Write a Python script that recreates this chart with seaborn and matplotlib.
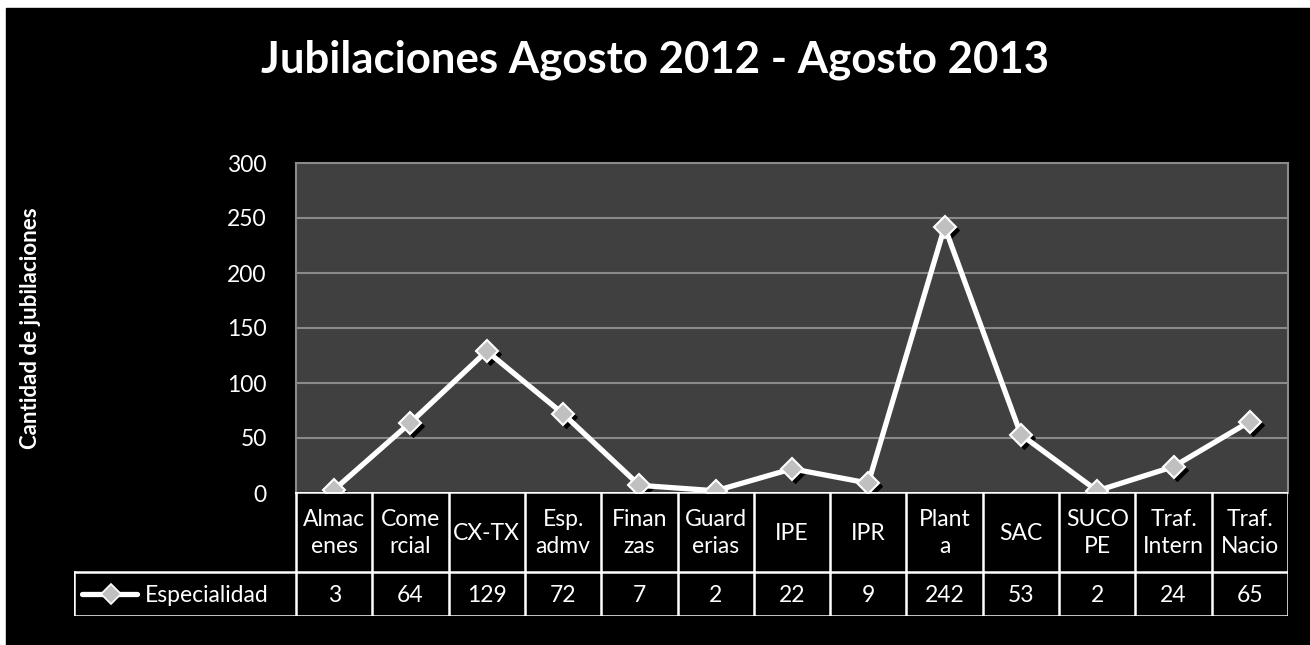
import numpy as np
import pandas as pd
import matplotlib
matplotlib.use("Agg")
import matplotlib.pyplot as plt
import matplotlib.transforms as mtransforms
from matplotlib.patches import Rectangle
import seaborn as sns

# data
categories = ["Almacenes", "Comercial", "CX-TX", "Esp. admv", "Finanzas", "Guarderias",
              "IPE", "IPR", "Planta", "SAC", "SUCOPE", "Traf. Intern", "Traf. Nacio"]
cat_labels = ["Almac\nenes", "Come\nrcial", "CX-TX", "Esp.\nadmv", "Finan\nzas", "Guard\nerias",
              "IPE", "IPR", "Plant\na", "SAC", "SUCO\nPE", "Traf.\nIntern", "Traf.\nNacio"]
values = [3, 64, 129, 72, 7, 2, 22, 9, 242, 53, 2, 24, 65]
y_ticks = [0, 50, 100, 150, 200, 250, 300]
series_name = "Especialidad"
title = "Jubilaciones Agosto 2012 - Agosto 2013"
y_label = "Cantidad de jubilaciones"

W, H = 1310, 645
FONT = ["Lato", "DejaVu Sans"]
FS = 16.5


def main():
    sns.set_theme(style="dark")
    plt.rcParams["font.family"] = FONT

    df = pd.DataFrame({"cat": categories, "val": values})

    fig = plt.figure(figsize=(W / 100, H / 100), dpi=100)
    fig.patch.set_facecolor("white")
    fig.add_artist(Rectangle((6 / W, 0), (W - 6) / W, (H - 8) / H,
                             transform=fig.transFigure, color="black", zorder=0))

    # plot area
    ax = fig.add_axes([296 / W, 1 - 493 / H, 992 / W, 330 / H])
    ax.set_facecolor("#404040")
    shadow = ax.transData + mtransforms.ScaledTranslation(3 / 100, -3 / 100, fig.dpi_scale_trans)
    sns.lineplot(data=df, x="cat", y="val", sort=False, ax=ax, marker="D", markersize=11,
                 linestyle="none", color="black", markeredgecolor="black",
                 transform=shadow, zorder=3)
    sns.lineplot(data=df, x="cat", y="val", sort=False, ax=ax, color="white",
                 linewidth=3.8, zorder=4)
    sns.lineplot(data=df, x="cat", y="val", sort=False, ax=ax, marker="D", markersize=11,
                 linestyle="none", color="#c0c0c0", markeredgecolor="white",
                 markeredgewidth=1.5, zorder=5)

    ax.set_xlim(-0.5, len(categories) - 0.5)
    ax.set_ylim(0, 300)
    ax.set_yticks(y_ticks)
    ax.set_yticklabels([str(t) for t in y_ticks], color="white", fontsize=FS)
    ax.tick_params(axis="y", length=0, pad=21)
    ax.set_xticks([])
    ax.set_xlabel("")
    ax.set_ylabel("")
    ax.grid(False)
    for t in y_ticks[1:-1]:
        ax.axhline(t, color="#8a8a8a", linewidth=1.5, zorder=1)
    for side in ["left", "top", "right"]:
        ax.spines[side].set_visible(True)
        ax.spines[side].set_color("#8a8a8a")
        ax.spines[side].set_linewidth(1.5)
    ax.spines["bottom"].set_visible(False)

    # data table below the plot
    n = len(categories)
    col_w = 992 / n
    x0 = -0.5 - 222 / col_w
    tax = fig.add_axes([74 / W, 1 - 616 / H, (1288 - 74) / W, 124 / H])
    tax.set_xlim(x0, n - 0.5)
    tax.set_ylim(124, 0)
    tax.axis("off")
    lc = dict(color="white", linewidth=1.8, solid_capstyle="projecting")
    tax.plot([-0.5, n - 0.5], [0, 0], **lc)
    tax.plot([x0, n - 0.5], [80, 80], **lc)
    tax.plot([x0, n - 0.5], [124, 124], **lc)
    tax.plot([x0, x0], [80, 124], **lc)
    for k in range(n + 1):
        tax.plot([k - 0.5, k - 0.5], [0, 124], **lc)
    for i, (lab, v) in enumerate(zip(cat_labels, values)):
        tax.text(i, 41, lab, ha="center", va="center", color="white", fontsize=FS,
                 linespacing=1.3)
        tax.text(i, 103, str(v), ha="center", va="center", color="white", fontsize=FS)

    def px(p):
        return -0.5 - (296 - p) / col_w

    tax.plot([px(82), px(137)], [102, 102], color="white", linewidth=3.8)
    tax.plot([px(111)], [102], marker="D", markersize=10, color="#c0c0c0",
             markeredgecolor="white", markeredgewidth=1.2)
    tax.text(px(145), 103, series_name, ha="left", va="center", color="white", fontsize=FS)

    fig.text(655 / W, 1 - 72 / H, title, ha="center", va="baseline", color="white",
             fontsize=31.5, fontweight="bold")
    fig.text(31 / W, 1 - 328 / H, y_label, ha="center", va="center", color="white",
             fontsize=16, fontweight="bold", rotation=90)

    fig.savefig("out.png", dpi=100, facecolor=fig.get_facecolor())
    plt.close(fig)


if __name__ == "__main__":
    main()
